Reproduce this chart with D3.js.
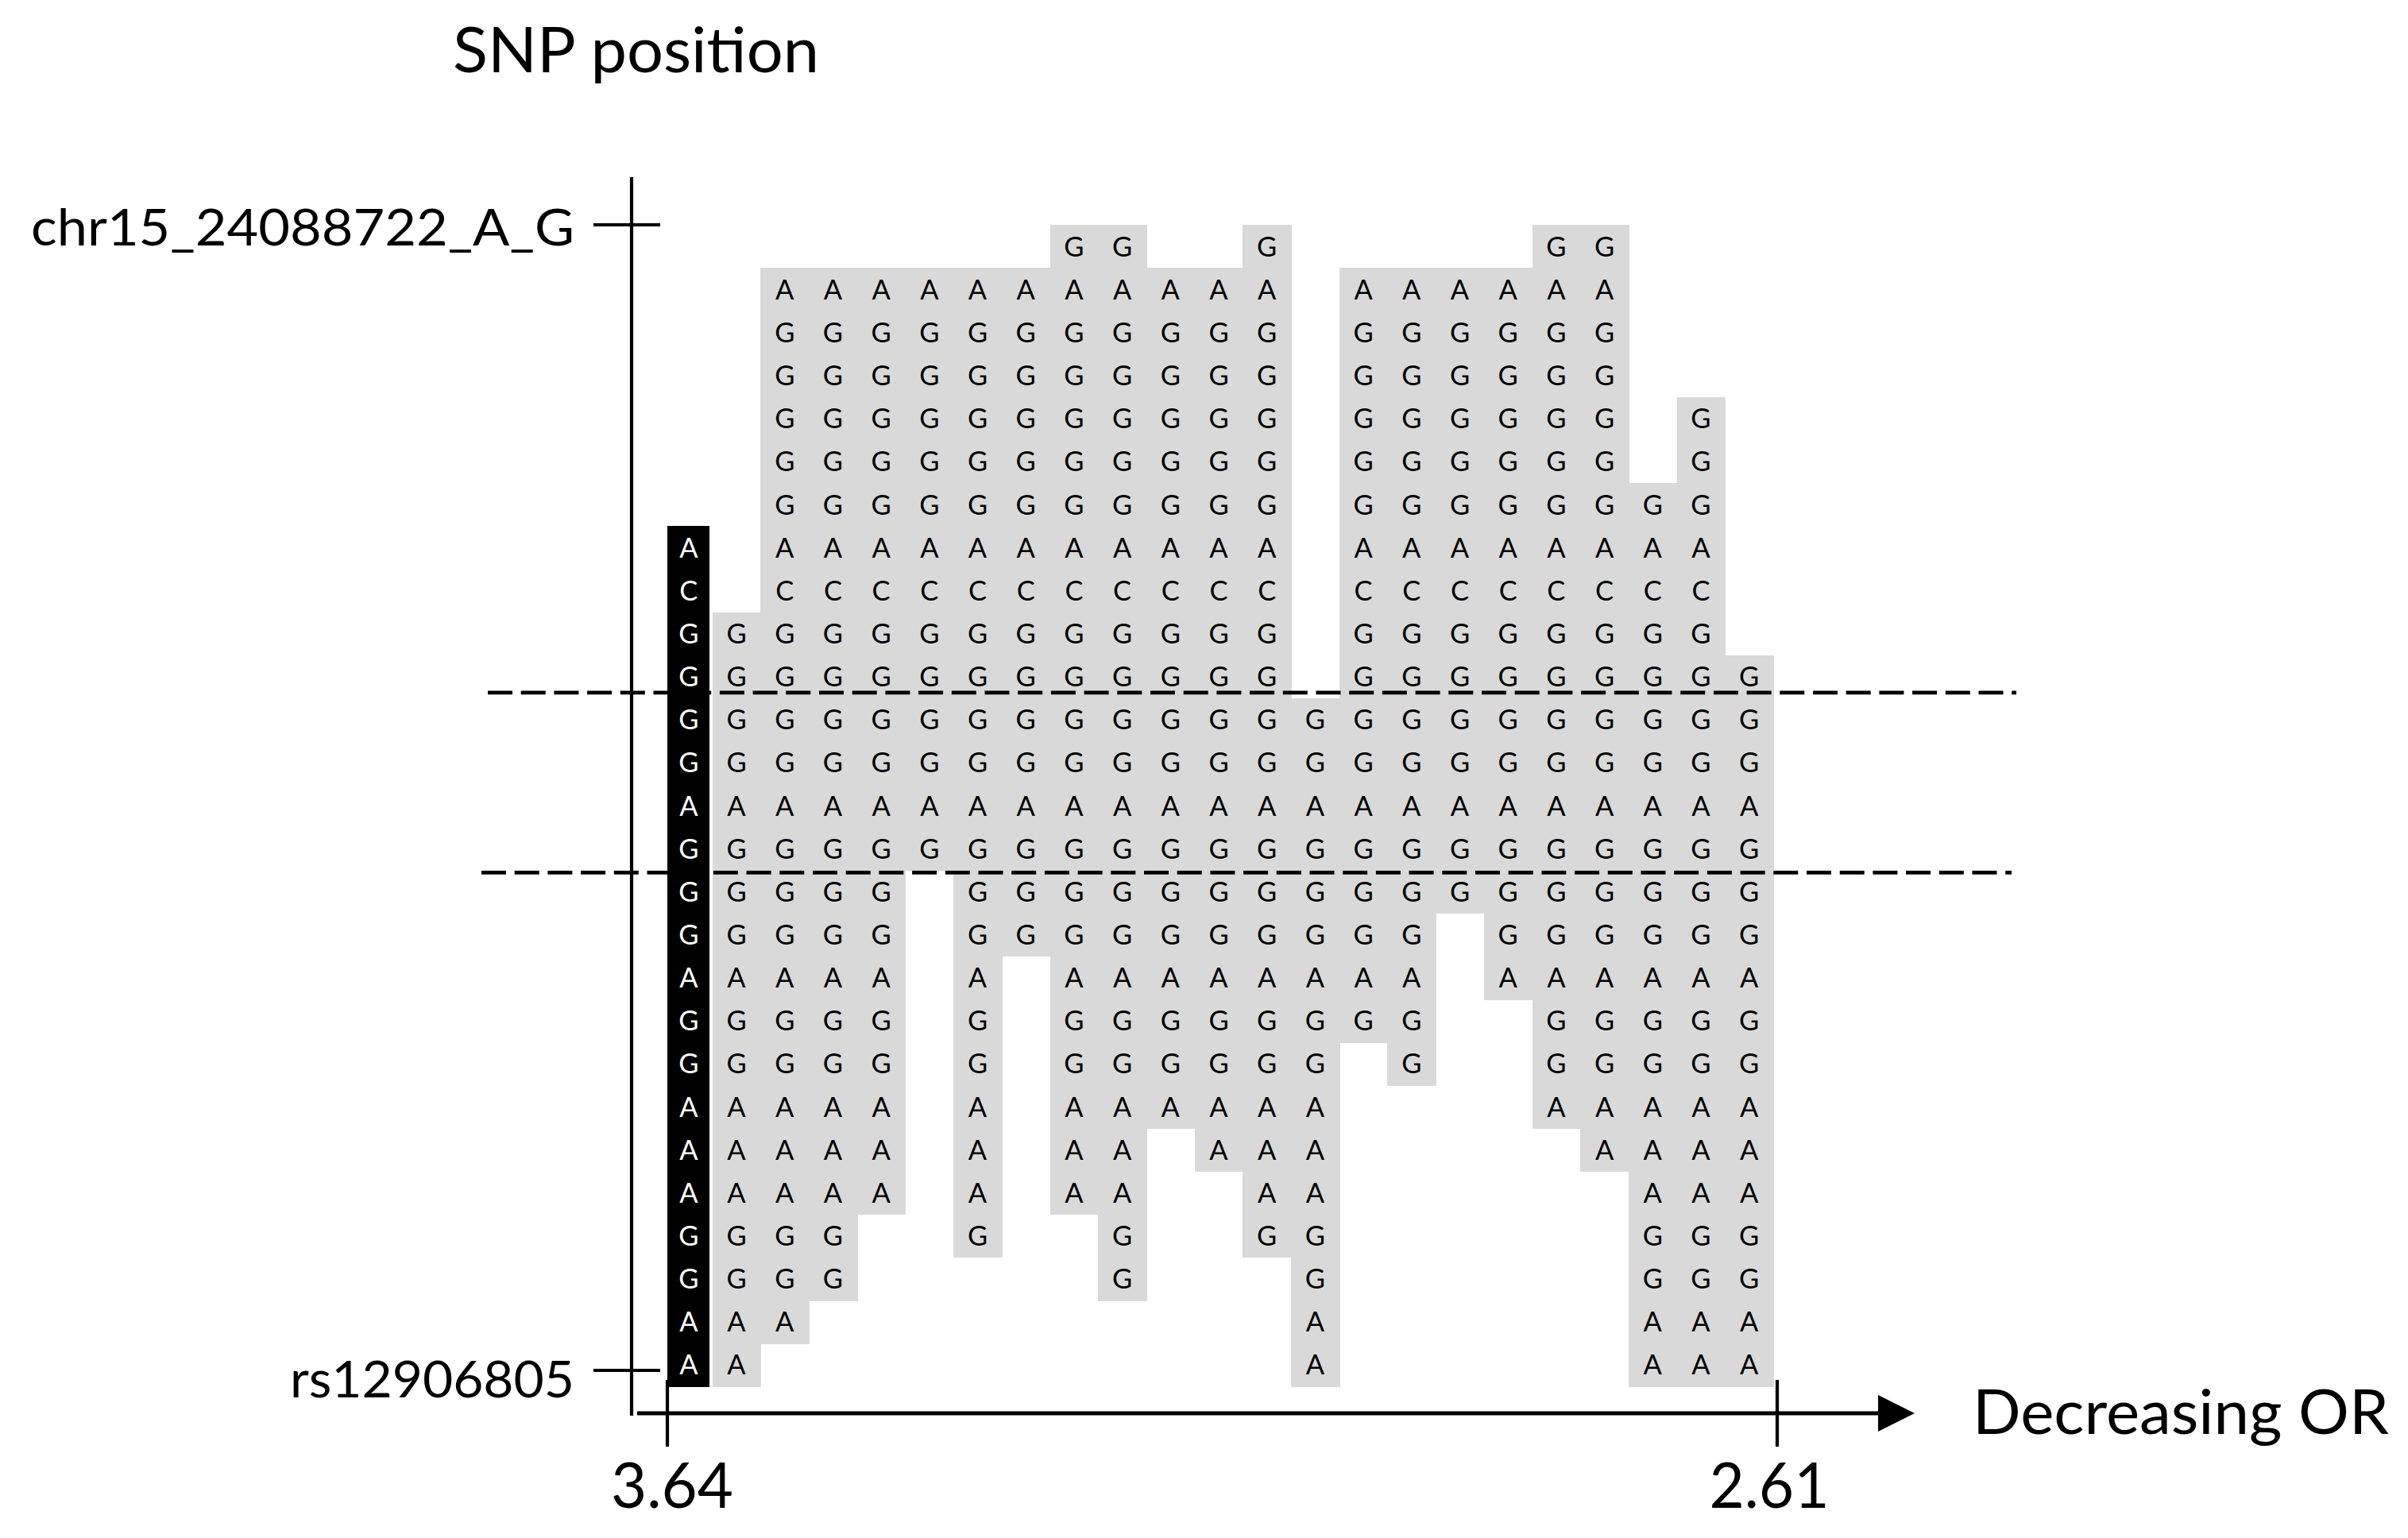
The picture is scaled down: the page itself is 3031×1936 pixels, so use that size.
<!DOCTYPE html>
<html><head><meta charset="utf-8">
<script src="https://cdn.jsdelivr.net/npm/d3@7"></script>
<style>html,body{margin:0;padding:0;background:#fff;} svg{display:block;}</style>
</head><body>
<svg id="chart" width="3031" height="1936"></svg>
<script>
// Rows = SNPs from top (chr15_24088722_A_G) to bottom (rs12906805).
// Columns = haplotypes ordered by decreasing OR (first column highlighted). "." = not shown.
const haplotypeRows = [
  "........GG..G.....GG...",
  "..AAAAAAAAAAA.AAAAAA...",
  "..GGGGGGGGGGG.GGGGGG...",
  "..GGGGGGGGGGG.GGGGGG...",
  "..GGGGGGGGGGG.GGGGGG.G.",
  "..GGGGGGGGGGG.GGGGGG.G.",
  "..GGGGGGGGGGG.GGGGGGGG.",
  "A.AAAAAAAAAAA.AAAAAAAA.",
  "C.CCCCCCCCCCC.CCCCCCCC.",
  "GGGGGGGGGGGGG.GGGGGGGG.",
  "GGGGGGGGGGGGG.GGGGGGGGG",
  "GGGGGGGGGGGGGGGGGGGGGGG",
  "GGGGGGGGGGGGGGGGGGGGGGG",
  "AAAAAAAAAAAAAAAAAAAAAAA",
  "GGGGGGGGGGGGGGGGGGGGGGG",
  "GGGGG.GGGGGGGGGGGGGGGGG",
  "GGGGG.GGGGGGGGGG.GGGGGG",
  "AAAAA.A.AAAAAAAA.AAAAAA",
  "GGGGG.G.GGGGGGGG..GGGGG",
  "GGGGG.G.GGGGGG.G..GGGGG",
  "AAAAA.A.AAAAAA....AAAAA",
  "AAAAA.A.AA.AAA.....AAAA",
  "AAAAA.A.AA..AA......AAA",
  "GGGG..G..G..GG......GGG",
  "GGGG.....G...G......GGG",
  "AAA..........A......AAA",
  "AA...........A......AAA"
];
const snpAxisLabels = ["chr15_24088722_A_G", "rs12906805"];
const orTickValues = [3.64, 2.61];
const orTickLabels = ["3.64", "2.61"];
const coreBlockRows = [11, 14];      // rows framed by the dashed lines
const highlightedColumn = 0;         // black haplotype column
const yAxisTitle = "SNP position";
const xAxisTitle = "Decreasing OR";

// ---- layout / style ----
const FONT = "Lato, 'Open Sans', sans-serif";
const GRAY = "#d9d9d9";
const svg = d3.select("#chart");

const nRows = haplotypeRows.length, nCols = haplotypeRows[0].length;
const x = d3.scaleBand().domain(d3.range(nCols)).range([836, 2232]).padding(0);
const y = d3.scaleBand().domain(d3.range(nRows)).range([283.3, 1745]).padding(0);
const orScale = d3.scaleLinear().domain(orTickValues).range([840, 2237]);
const snpScale = d3.scalePoint().domain(snpAxisLabels).range([283, 1725]);
const bw = x.bandwidth(), bh = y.bandwidth();

const cells = [];
haplotypeRows.forEach((row, r) => {
  row.split("").forEach((a, c) => { if (a !== ".") cells.push({r, c, a}); });
});

// gray cells
svg.append("g").selectAll("rect")
  .data(cells.filter(d => d.c !== highlightedColumn))
  .join("rect")
  .attr("x", d => x(d.c)).attr("y", d => y(d.r))
  .attr("width", bw + 0.8).attr("height", bh + 0.8)
  .attr("fill", GRAY).attr("shape-rendering", "crispEdges");

// dashed lines around the core block
const dashY = [y(coreBlockRows[0]) - 7, y(coreBlockRows[1]) + bh + 3];
const dashX = [[614, 2538], [606, 2532]];
svg.append("g").selectAll("line").data(dashY).join("line")
  .attr("x1", (d, i) => dashX[i][0]).attr("x2", (d, i) => dashX[i][1])
  .attr("y1", d => d).attr("y2", d => d)
  .attr("stroke", "#000").attr("stroke-width", 4.7)
  .attr("stroke-dasharray", "31,10.7");

// black highlighted column
svg.append("g").selectAll("rect")
  .data(cells.filter(d => d.c === highlightedColumn))
  .join("rect")
  .attr("x", d => x(d.c) + 4).attr("y", d => y(d.r))
  .attr("width", bw - 7.5).attr("height", bh + 0.8)
  .attr("fill", "#000").attr("shape-rendering", "crispEdges");

// allele letters
svg.append("g").selectAll("text").data(cells).join("text")
  .attr("x", d => x(d.c) + bw / 2 + (d.c === highlightedColumn ? 0.5 : 0))
  .attr("y", d => y(d.r) + bh / 2 + 12.4)
  .attr("text-anchor", "middle")
  .attr("font-family", FONT).attr("font-size", 34.5)
  .attr("fill", d => d.c === highlightedColumn ? "#fff" : "#000")
  .text(d => d.a);

// ---- y axis ----
const axisX = 795;
svg.append("line").attr("x1", axisX).attr("x2", axisX).attr("y1", 223).attr("y2", 1782)
  .attr("stroke", "#000").attr("stroke-width", 4.2);
const yLabelWidths = [684, 358];
const ya = svg.append("g");
ya.selectAll("line").data(snpAxisLabels).join("line")
  .attr("x1", axisX - 48).attr("x2", axisX + 36)
  .attr("y1", d => snpScale(d)).attr("y2", d => snpScale(d))
  .attr("stroke", "#000").attr("stroke-width", 4);
ya.selectAll("text").data(snpAxisLabels).join("text")
  .attr("x", 723).attr("y", (d, i) => snpScale(d) + (i === 0 ? 26 : 34))
  .attr("text-anchor", "end")
  .attr("font-family", FONT).attr("font-size", 64)
  .attr("textLength", (d, i) => yLabelWidths[i]).attr("lengthAdjust", "spacingAndGlyphs")
  .text(d => d);

svg.append("text").attr("x", 570).attr("y", 91)
  .attr("font-family", FONT).attr("font-size", 79.5)
  .attr("textLength", 461).attr("lengthAdjust", "spacingAndGlyphs")
  .text(yAxisTitle);

// ---- x axis ----
const axisY = 1779;
svg.append("line").attr("x1", 802).attr("x2", 2368).attr("y1", axisY).attr("y2", axisY)
  .attr("stroke", "#000").attr("stroke-width", 5);
svg.append("path")
  .attr("d", `M2364,${axisY - 23}L2410,${axisY}L2364,${axisY + 23}Z`)
  .attr("fill", "#000");
const xa = svg.append("g");
xa.selectAll("line").data(orTickValues).join("line")
  .attr("x1", d => orScale(d)).attr("x2", d => orScale(d))
  .attr("y1", 1737).attr("y2", 1821)
  .attr("stroke", "#000").attr("stroke-width", 4.2);
const xLabelWidths = [154, 151];
const xLabelShift = [6, -10];
xa.selectAll("text").data(orTickValues).join("text")
  .attr("x", (d, i) => orScale(d) + xLabelShift[i]).attr("y", 1898)
  .attr("text-anchor", "middle")
  .attr("font-family", FONT).attr("font-size", 79.5)
  .attr("textLength", (d, i) => xLabelWidths[i]).attr("lengthAdjust", "spacingAndGlyphs")
  .text((d, i) => orTickLabels[i]);

svg.append("text").attr("x", 2483).attr("y", 1805)
  .attr("font-family", FONT).attr("font-size", 77)
  .attr("textLength", 524).attr("lengthAdjust", "spacingAndGlyphs")
  .text(xAxisTitle);
</script>
</body></html>
